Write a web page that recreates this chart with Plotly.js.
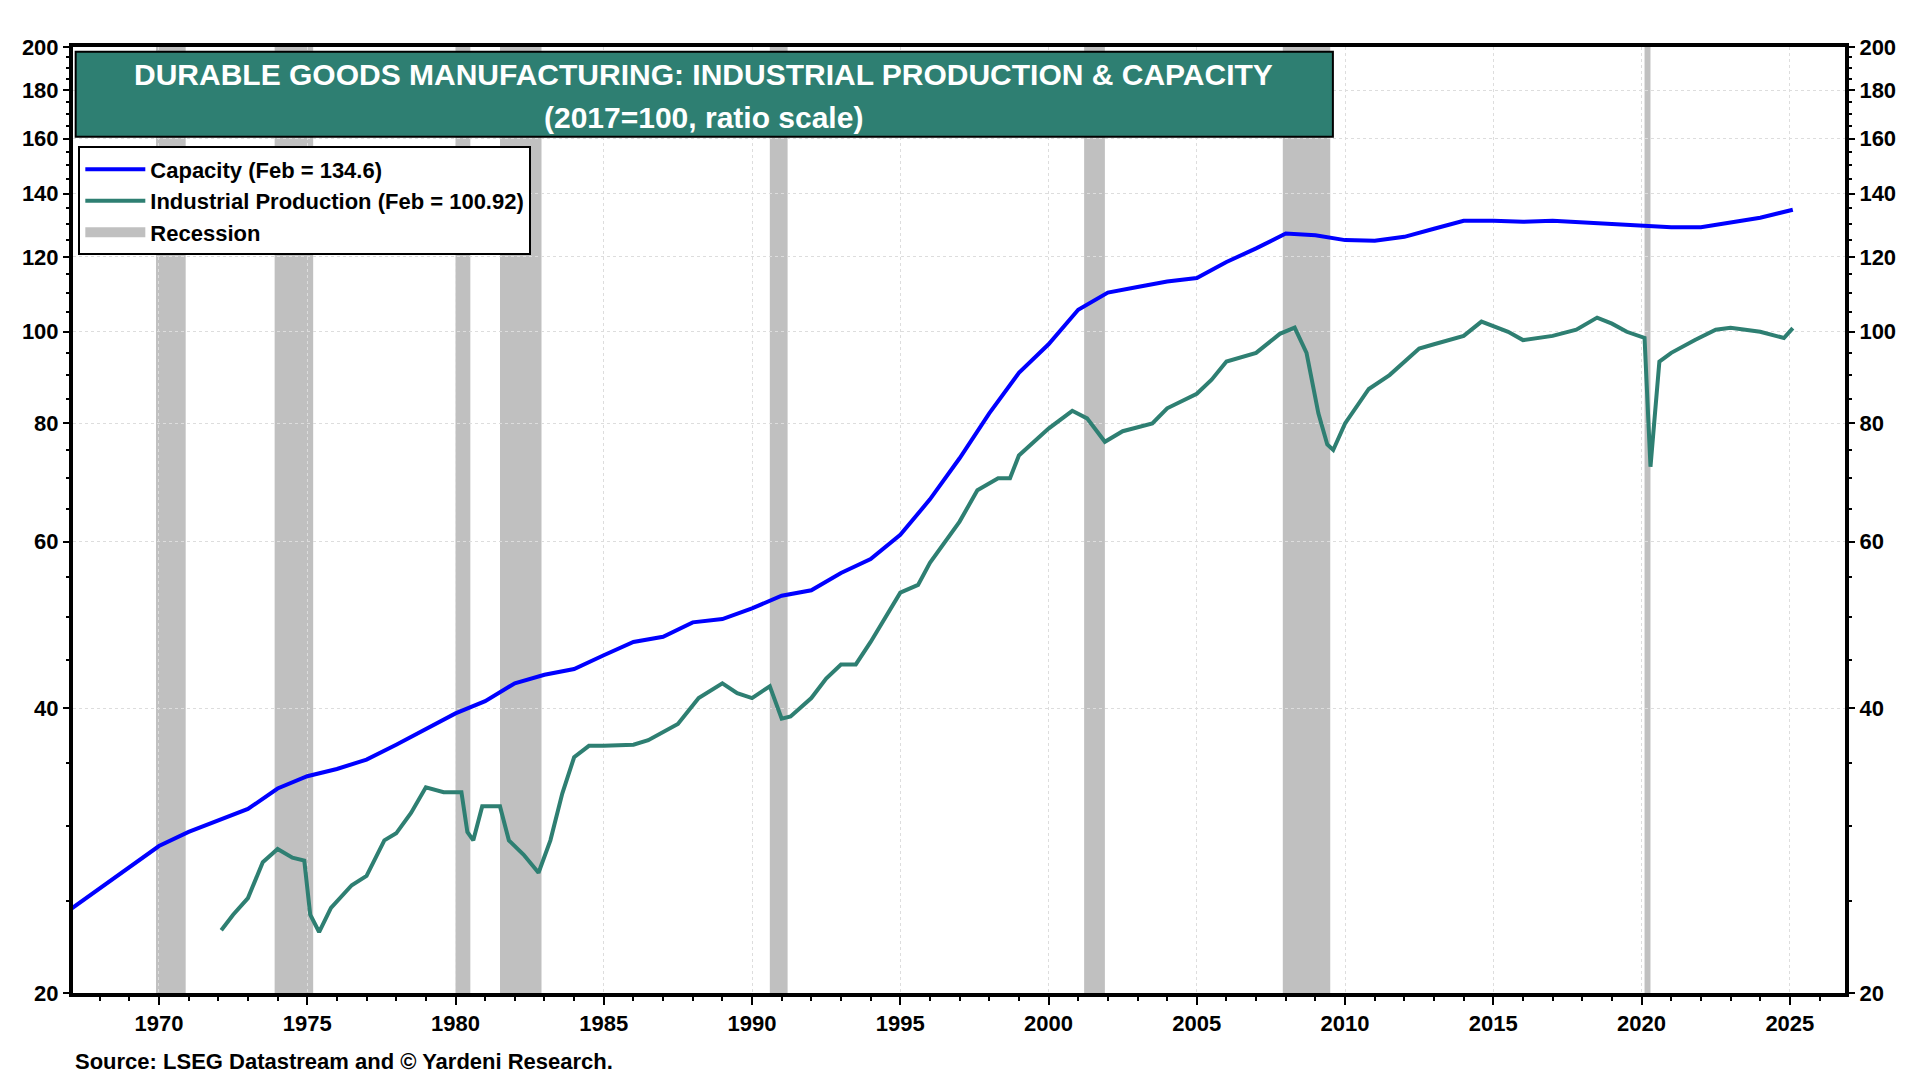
<!DOCTYPE html>
<html>
<head>
<meta charset="utf-8">
<script src="https://cdn.plot.ly/plotly-3.0.1.min.js"></script>
<style>body{margin:0;background:#fff}#chart{width:1920px;height:1080px}</style>
</head>
<body>
<div id="chart"></div>
<script>
// Capacity, 2017=100
var capX = [1967,1968,1969,1970,1971,1972,1973,1974,1975,1976,1977,1978,1979,1980,1981,1982,1983,1984,1985,1986,1987,1988,1989,1990,1991,1992,1993,1994,1995,1996,1997,1998,1999,2000,2001,2002,2003,2004,2005,2006,2007,2008,2009,2010,2011,2012,2013,2014,2015,2016,2017,2018,2019,2020,2021,2022,2023,2024,2025.1];
var capY = [24.5,25.8,27.2,28.6,29.6,30.4,31.3,32.9,33.9,34.5,35.3,36.6,38.0,39.5,40.7,42.5,43.4,44.0,45.5,47.0,47.6,49.3,49.7,51.0,52.6,53.3,55.6,57.5,61.0,66.5,73.5,82.0,90.5,97.0,105.5,110.0,111.5,113.0,114.0,118.5,122.5,127.0,126.5,125.0,124.8,126.0,128.5,131.0,131.0,130.7,131.0,130.5,130.0,129.8,129.0,129.0,130.5,132.0,134.6];

// Industrial production, 2017=100
var ipX = [1972.1,1972.5,1973,1973.5,1974,1974.5,1974.9,1975.1,1975.4,1975.8,1976.5,1977,1977.6,1978,1978.5,1979,1979.6,1980.2,1980.4,1980.6,1980.9,1981.5,1981.8,1982.3,1982.8,1983.2,1983.6,1984,1984.5,1985,1986,1986.5,1987.5,1988.2,1989,1989.5,1990,1990.6,1991.0,1991.3,1992,1992.5,1993,1993.5,1994,1995,1995.6,1996,1997,1997.6,1998.3,1998.7,1999,2000,2000.8,2001.3,2001.9,2002.5,2003.5,2004,2005,2005.5,2006,2007,2007.8,2008.3,2008.7,2009.1,2009.4,2009.6,2010,2010.8,2011.5,2012.5,2013,2014,2014.6,2015.5,2016,2017,2017.8,2018.5,2019,2019.5,2020.1,2020.3,2020.6,2021,2021.8,2022.5,2023,2024,2024.8,2025.1];
var ipY = [23.3,24.2,25.2,27.5,28.4,27.8,27.6,24.2,23.2,24.6,26.0,26.6,29.0,29.5,31.0,33.0,32.6,32.6,29.6,29.0,31.5,31.5,29.0,28.0,26.8,29.0,32.5,35.5,36.5,36.5,36.6,37.0,38.5,41.0,42.5,41.5,41.0,42.2,39.0,39.2,41.0,43.0,44.5,44.5,47.0,53.0,54.0,57.0,63.0,68.0,70.0,70.0,74.0,79.0,82.5,81.0,76.5,78.5,80.0,83.0,86.0,89.0,93.0,95.0,99.5,101.0,95.0,82.0,76.0,75.0,80.0,87.0,90.0,96.0,97.0,99.0,102.5,100.0,98.0,99.0,100.5,103.5,102.0,100.0,98.5,72.0,93.0,95.0,98.0,100.5,101.0,100.0,98.5,100.9];

var recStart = [1969.9,1973.9,1980.0,1981.5,1990.6,2001.2,2007.9,2020.1];
var recEnd   = [1970.9,1975.2,1980.5,1982.9,1991.2,2001.9,2009.5,2020.3];

var yTicks = [20,40,60,80,100,120,140,160,180,200];
var xTicks = [1970,1975,1980,1985,1990,1995,2000,2005,2010,2015,2020,2025];

var font = 'Liberation Sans, Arial, sans-serif';
var shapes = recStart.map(function(s, i){
  return {type:'rect', xref:'x', yref:'paper', x0:s, x1:recEnd[i], y0:0, y1:1,
          fillcolor:'#c0c0c0', line:{width:0}, layer:'below'};
});
shapes.push({type:'rect', xref:'paper', yref:'paper', x0:0.0015, x1:0.711, y0:0.905, y1:0.995,
             fillcolor:'#2e7f72', line:{color:'#000', width:2}});

var data = [
  {x:capX, y:capY, type:'scatter', mode:'lines', name:'Capacity (Feb = 134.6)', line:{color:'#0000ff', width:4}},
  {x:ipX, y:ipY, type:'scatter', mode:'lines', name:'Industrial Production (Feb = 100.92)', line:{color:'#2e7f72', width:4}},
  {x:[null], y:[null], type:'scatter', mode:'lines', name:'Recession', line:{color:'#c0c0c0', width:16}},
  {x:[1967], y:[20], yaxis:'y2', type:'scatter', mode:'markers', marker:{opacity:0}, showlegend:false, hoverinfo:'skip'}
];

var axisY = {type:'log', range:[Math.log10(20), Math.log10(200)], tickvals:yTicks, ticktext:yTicks.map(String),
  ticks:'outside', ticklen:6, tickwidth:2, tickcolor:'#000', showline:true, linecolor:'#000', linewidth:4,
  showgrid:true, gridcolor:'#dddddd', griddash:'dot', zeroline:false,
  tickfont:{family:font, size:22, color:'#000', weight:'bold'},
  minor:{tickvals:[25,30,35,45,50,55,65,70,75,85,90,95,105,110,115,125,130,135,145,150,155,165,170,175,185,190,195], ticks:'outside', ticklen:3, tickcolor:'#000', showgrid:false}};

var layout = {
  width:1920, height:1080, paper_bgcolor:'#fff', plot_bgcolor:'#fff',
  margin:{l:73, r:75, t:47, b:87},
  showlegend:true,
  legend:{x:0.003, y:0.895, xanchor:'left', yanchor:'top', bgcolor:'#fff', bordercolor:'#000', borderwidth:2,
          font:{family:font, size:22, color:'#000', weight:'bold'}, tracegroupgap:0, itemwidth:60},
  xaxis:{range:[1967.1, 2026.86], tickvals:xTicks, ticks:'outside', ticklen:8, tickwidth:2, tickcolor:'#000',
         showline:true, linecolor:'#000', linewidth:4, mirror:true, showgrid:true, gridcolor:'#dddddd', griddash:'dot',
         zeroline:false, tickfont:{family:font, size:22, color:'#000', weight:'bold'},
         minor:{dtick:1, ticks:'outside', ticklen:4, tickcolor:'#000', showgrid:false}},
  yaxis:axisY,
  yaxis2:Object.assign({}, axisY, {overlaying:'y', side:'right', showgrid:false}),
  shapes:shapes,
  annotations:[
    {xref:'paper', yref:'paper', x:0.356, y:0.971, yanchor:'middle', text:'DURABLE GOODS MANUFACTURING: INDUSTRIAL PRODUCTION & CAPACITY', showarrow:false,
     font:{family:font, size:30, color:'#fff', weight:'bold'}},
    {xref:'paper', yref:'paper', x:0.356, y:0.925, yanchor:'middle', text:'(2017=100, ratio scale)', showarrow:false,
     font:{family:font, size:30, color:'#fff', weight:'bold'}},
    {xref:'paper', yref:'paper', x:0, y:-0.072, xanchor:'left', yanchor:'middle', text:'Source: LSEG Datastream and © Yardeni Research.', showarrow:false,
     font:{family:font, size:22, color:'#000', weight:'bold'}}
  ]
};

Plotly.newPlot(document.getElementById('chart'), data, layout, {displayModeBar:false});
</script>
</body>
</html>
